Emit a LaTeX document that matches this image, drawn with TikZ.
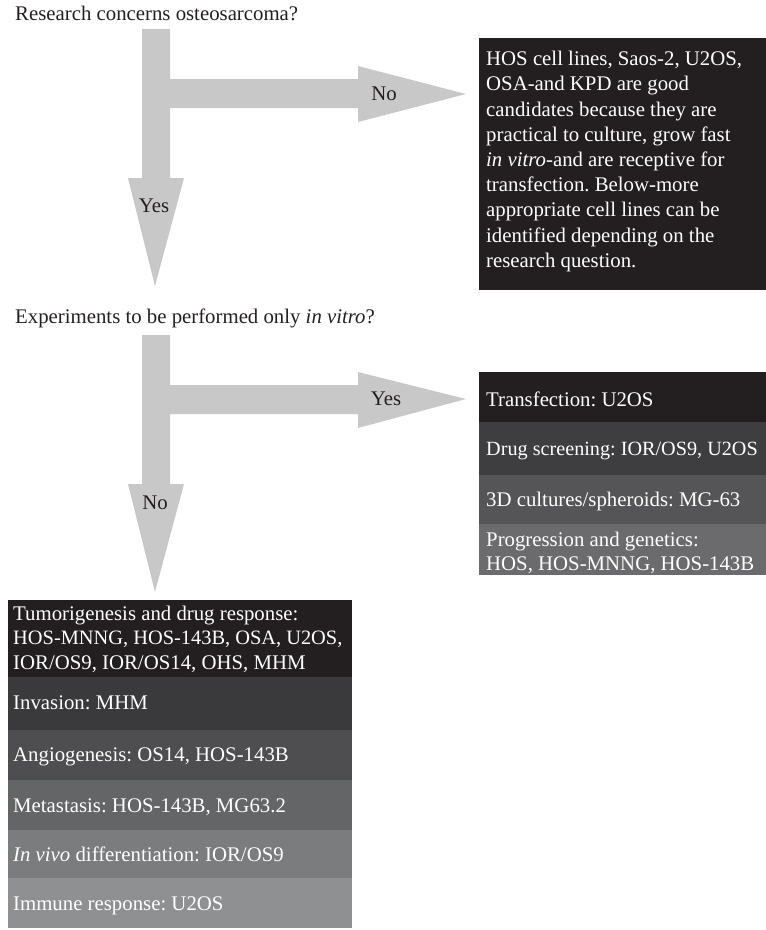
\documentclass[tikz,border=0pt]{standalone}
\usepackage{fontspec}
\setmainfont{Liberation Serif}
\frenchspacing
\definecolor{arrowgray}{HTML}{C8C8C8}
\definecolor{dk}{HTML}{231F20}
\definecolor{gA}{HTML}{3A393B}
\definecolor{gB}{HTML}{4E4E50}
\definecolor{gC}{HTML}{646567}
\definecolor{gD}{HTML}{7A7C7E}
\definecolor{gE}{HTML}{8E9092}
\definecolor{rB}{HTML}{3E3D3F}
\definecolor{rC}{HTML}{555557}
\definecolor{rD}{HTML}{6B6B6D}
\begin{document}
\begin{tikzpicture}[x=1pt,y=-1pt,
  every node/.style={font=\fontsize{20.8}{25.3}\selectfont},
  bigarrow/.style={fill=arrowgray},
  question/.style={anchor=base west, inner sep=0pt, text=dk},
  lbl/.style={inner sep=0pt, text=dk},
  rowbox/.style={anchor=north west, inner sep=0pt},
  rowtext/.style={anchor=base west, inner sep=0pt, text=white}
]
\useasboundingbox (0,0) rectangle (766,930);

% ---- first question ----
\node[question] (q1) at (15,20) {Research concerns osteosarcoma?};
\fill[bigarrow] (142,29) -- (170,29) -- (170,79) -- (358,79) -- (358,66) -- (466,94)
  -- (358,122) -- (358,108) -- (170,108) -- (170,178) -- (184,178) -- (155,286)
  -- (128,178) -- (142,178) -- cycle;
\node[lbl] (no1) at (384,94) {No};
\node[lbl] (yes1) at (154,206) {Yes};

\node[rowbox, fill=dk, minimum width=287pt, minimum height=252pt] (box1) at (479,38) {};
\node[anchor=north west, inner sep=0pt, text=white, align=left,
  font=\fontsize{20.8}{25.2}\selectfont] (box1text) at (486,51)
  {HOS cell lines, Saos-2, U2OS,\\
   OSA-and KPD are good\\
   candidates because they are\\
   practical to culture, grow fast\\
   \textit{in vitro}-and are receptive for\\
   transfection. Below-more\\
   appropriate cell lines can be\\
   identified depending on the\\
   research question.};

% ---- second question ----
\node[question] (q2) at (15,323) {Experiments to be performed only \textit{in vitro}?};
\fill[bigarrow] (142,335) -- (170,335) -- (170,385) -- (358,385) -- (358,372) -- (466,399)
  -- (358,428) -- (358,414) -- (170,414) -- (170,484) -- (184,484) -- (155,592)
  -- (128,484) -- (142,484) -- cycle;
\node[lbl] (yes2) at (386,399) {Yes};
\node[lbl] (no2) at (155,503) {No};

% ---- right table ----
\node[rowbox, fill=dk, minimum width=287pt, minimum height=50pt] (r1) at (479,372) {};
\node[rowbox, fill=rB, minimum width=287pt, minimum height=53pt] (r2) at (479,422) {};
\node[rowbox, fill=rC, minimum width=287pt, minimum height=49pt] (r3) at (479,475) {};
\node[rowbox, fill=rD, minimum width=287pt, minimum height=51pt] (r4) at (479,524) {};
\node[rowtext] (r1t) at (486,406) {Transfection: U2OS};
\node[rowtext, font=\fontsize{20.2}{24}\selectfont] (r2t) at (486,455) {Drug screening: IOR/OS9, U2OS};
\node[rowtext] (r3t) at (486,506) {3D cultures/spheroids: MG-63};
\node[rowtext] (r4a) at (486,546) {Progression and genetics:};
\node[rowtext] (r4b) at (486,570) {HOS, HOS-MNNG, HOS-143B};

% ---- left table ----
\node[rowbox, fill=dk, minimum width=344pt, minimum height=77pt] (l1) at (8,600) {};
\node[rowbox, fill=gA, minimum width=344pt, minimum height=53pt] (l2) at (8,677) {};
\node[rowbox, fill=gB, minimum width=344pt, minimum height=50pt] (l3) at (8,730) {};
\node[rowbox, fill=gC, minimum width=344pt, minimum height=50pt] (l4) at (8,780) {};
\node[rowbox, fill=gD, minimum width=344pt, minimum height=48pt] (l5) at (8,830) {};
\node[rowbox, fill=gE, minimum width=344pt, minimum height=50pt] (l6) at (8,878) {};
\node[rowtext] (l1a) at (13,620) {Tumorigenesis and drug response:};
\node[rowtext, font=\fontsize{20.4}{24}\selectfont] (l1b) at (13,644.5) {HOS-MNNG, HOS-143B, OSA, U2OS,};
\node[rowtext] (l1c) at (13,669) {IOR/OS9, IOR/OS14, OHS, MHM};
\node[rowtext] (l2t) at (13,709.5) {Invasion: MHM};
\node[rowtext] (l3t) at (13,761) {Angiogenesis: OS14, HOS-143B};
\node[rowtext] (l4t) at (13,812) {Metastasis: HOS-143B, MG63.2};
\node[rowtext] (l5t) at (13,861) {\textit{In vivo} differentiation: IOR/OS9};
\node[rowtext] (l6t) at (13,910) {Immune response: U2OS};
\end{tikzpicture}
\end{document}
